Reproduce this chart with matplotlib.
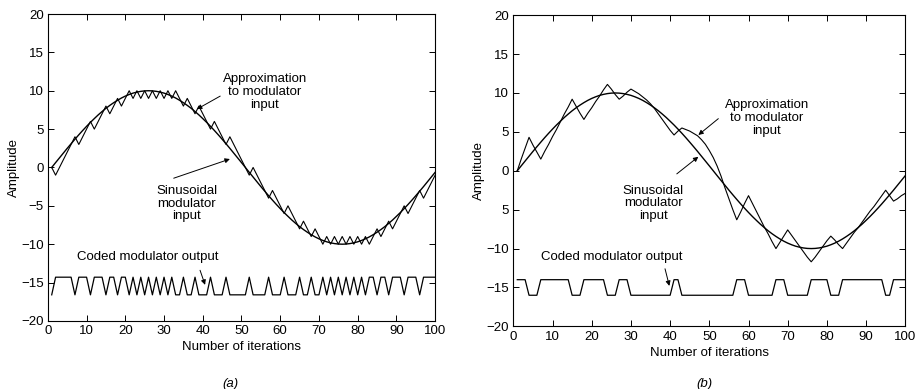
import numpy as np
import matplotlib
matplotlib.use('Agg')
import matplotlib.pyplot as plt

plt.rcParams['font.family'] = ['Liberation Sans', 'DejaVu Sans']

# sinusoidal modulator input, one value per iteration (1..100)
sine_half = [0.00, 0.63, 1.25, 1.87, 2.49, 3.09, 3.68, 4.26, 4.82, 5.36,
             5.88, 6.37, 6.85, 7.29, 7.71, 8.09, 8.44, 8.76, 9.05, 9.30,
             9.51, 9.69, 9.82, 9.92, 9.98, 10.00, 9.98, 9.92, 9.82, 9.69,
             9.51, 9.30, 9.05, 8.76, 8.44, 8.09, 7.71, 7.29, 6.85, 6.37,
             5.88, 5.36, 4.82, 4.26, 3.68, 3.09, 2.49, 1.87, 1.25, 0.63]
sine_input = sine_half + [-v for v in sine_half]

# (a) linear delta modulation: staircase approximation and coded bits
approx_a = [0, -1, 0, 1, 2, 3, 4, 3, 4, 5,
            6, 5, 6, 7, 8, 7, 8, 9, 8, 9,
            10, 9, 10, 9, 10, 9, 10, 9, 10, 9,
            10, 9, 10, 9, 8, 9, 8, 7, 8, 7,
            6, 5, 6, 5, 4, 3, 4, 3, 2, 1,
            0, -1, 0, -1, -2, -3, -4, -3, -4, -5,
            -6, -5, -6, -7, -8, -7, -8, -9, -8, -9,
            -10, -9, -10, -9, -10, -9, -10, -9, -10, -9,
            -10, -9, -10, -9, -8, -9, -8, -7, -8, -7,
            -6, -5, -6, -5, -4, -3, -4, -3, -2, -1]
bits_a = [0, 1, 1, 1, 1, 1, 0, 1, 1, 1,
          0, 1, 1, 1, 0, 1, 1, 0, 1, 1,
          0, 1, 0, 1, 0, 1, 0, 1, 0, 1,
          0, 1, 0, 0, 1, 0, 0, 1, 0, 0,
          0, 1, 0, 0, 0, 1, 0, 0, 0, 0,
          0, 1, 0, 0, 0, 0, 1, 0, 0, 0,
          1, 0, 0, 0, 1, 0, 0, 1, 0, 0,
          1, 0, 1, 0, 1, 0, 1, 0, 1, 0,
          1, 0, 1, 1, 0, 1, 1, 0, 1, 1,
          1, 0, 1, 1, 1, 0, 1, 1, 1, 1]
levels_a = (-16.6, -14.3)

# (b) adaptive delta modulation
approx_b = [0.0, 1.5, 2.9, 4.3, 3.3, 2.4, 1.5, 2.5, 3.4, 4.4,
            5.3, 6.3, 7.3, 8.2, 9.2, 8.3, 7.4, 6.6, 7.4, 8.1,
            8.9, 9.6, 10.4, 11.1, 10.5, 9.8, 9.2, 9.6, 10.1, 10.5,
            10.2, 9.9, 9.5, 9.1, 8.6, 8.0, 7.3, 6.6, 5.9, 5.2,
            4.6, 5.1, 5.5, 5.3, 5.1, 4.8, 4.5, 4.0, 3.4, 2.6,
            1.7, 0.6, -0.7, -2.2, -3.6, -5.0, -6.3, -5.3, -4.2, -3.2,
            -4.2, -5.2, -6.2, -7.2, -8.1, -9.1, -10.0, -9.2, -8.4, -7.6,
            -8.3, -9.0, -9.7, -10.4, -11.1, -11.7, -11.1, -10.4, -9.7, -9.0,
            -8.4, -8.9, -9.5, -10.0, -9.3, -8.6, -7.9, -7.3, -6.6, -5.9,
            -5.2, -4.6, -3.9, -3.2, -2.5, -3.2, -3.9, -3.6, -3.2, -2.9]
bits_b = [1, 1, 1, 0, 0, 0, 1, 1, 1, 1,
          1, 1, 1, 1, 0, 0, 0, 1, 1, 1,
          1, 1, 1, 0, 0, 0, 1, 1, 1, 0,
          0, 0, 0, 0, 0, 0, 0, 0, 0, 0,
          1, 1, 0, 0, 0, 0, 0, 0, 0, 0,
          0, 0, 0, 0, 0, 0, 1, 1, 1, 0,
          0, 0, 0, 0, 0, 0, 1, 1, 1, 0,
          0, 0, 0, 0, 0, 1, 1, 1, 1, 1,
          0, 0, 0, 1, 1, 1, 1, 1, 1, 1,
          1, 1, 1, 1, 0, 0, 1, 1, 1, 1]
levels_b = (-16.0, -14.0)

x_ticks = [0, 10, 20, 30, 40, 50, 60, 70, 80, 90, 100]
y_ticks = [-20, -15, -10, -5, 0, 5, 10, 15, 20]
y_labels_a = ['\u221220', '\u221215', '\u221210', '\u22125', '0', '5', '10', '15', '20']
y_labels_b = ['\u221220', '\u221215', '\u221210', '5', '0', '5', '10', '15', '20']

iters = np.arange(1, len(sine_input) + 1)

fig = plt.figure(figsize=(9.2, 3.89), dpi=100)
ax_a = fig.add_axes([0.052, 0.175, 0.421, 0.789])
ax_b = fig.add_axes([0.558, 0.161, 0.426, 0.800])

arrow = dict(arrowstyle='-|>', lw=0.7, color='black', mutation_scale=7,
             shrinkA=0, shrinkB=0)
txt = dict(fontsize=9.5, ha='center', va='center', linespacing=1.1)


def draw_panel(ax, approx, bits, levels, ylabels):
    coded = np.where(np.array(bits) == 1, levels[1], levels[0])
    ax.plot(iters, sine_input, color='black', lw=1.0)
    ax.plot(iters, approx, color='black', lw=0.8)
    ax.plot(iters, coded, color='black', lw=0.9)
    ax.set_xlim(0, 100)
    ax.set_ylim(-20, 20)
    ax.set_xticks(x_ticks)
    ax.set_yticks(y_ticks)
    ax.set_yticklabels(ylabels)
    ax.tick_params(direction='in', length=4, width=0.7, labelsize=9.5,
                   top=True, right=True, pad=3)
    for s in ax.spines.values():
        s.set_linewidth(0.8)
    ax.set_xlabel('Number of iterations', fontsize=9.5, labelpad=3)
    ax.set_ylabel('Amplitude', fontsize=9.5, labelpad=1)


draw_panel(ax_a, approx_a, bits_a, levels_a, y_labels_a)
draw_panel(ax_b, approx_b, bits_b, levels_b, y_labels_b)

# annotations (a)
ax_a.text(56, 9.8, 'Approximation\nto modulator\ninput', **txt)
ax_a.annotate('', xy=(38.5, 7.6), xytext=(44.5, 9.3), arrowprops=arrow)
ax_a.text(35.8, -4.7, 'Sinusoidal\nmodulator\ninput', **txt)
ax_a.annotate('', xy=(47, 1.1), xytext=(32.5, -1.4), arrowprops=arrow)
ax_a.text(25.9, -11.7, 'Coded modulator output', **txt)
ax_a.annotate('', xy=(40.6, -15.3), xytext=(39.3, -13.4), arrowprops=arrow)

# annotations (b)
ax_b.text(64.7, 6.8, 'Approximation\nto modulator\ninput', **txt)
ax_b.annotate('', xy=(47.2, 4.6), xytext=(52.3, 6.7), arrowprops=arrow)
ax_b.text(35.7, -4.2, 'Sinusoidal\nmodulator\ninput', **txt)
ax_b.annotate('', xy=(47.2, 1.8), xytext=(41.7, -0.4), arrowprops=arrow)
ax_b.text(25.1, -11.1, 'Coded modulator output', **txt)
ax_b.annotate('', xy=(39.8, -14.8), xytext=(38.7, -12.6), arrowprops=arrow)

fig.text(0.25, 0.005, '(a)', fontsize=9.5, style='italic', ha='center')
fig.text(0.766, 0.005, '(b)', fontsize=9.5, style='italic', ha='center')

plt.savefig('out.png', dpi=100)
